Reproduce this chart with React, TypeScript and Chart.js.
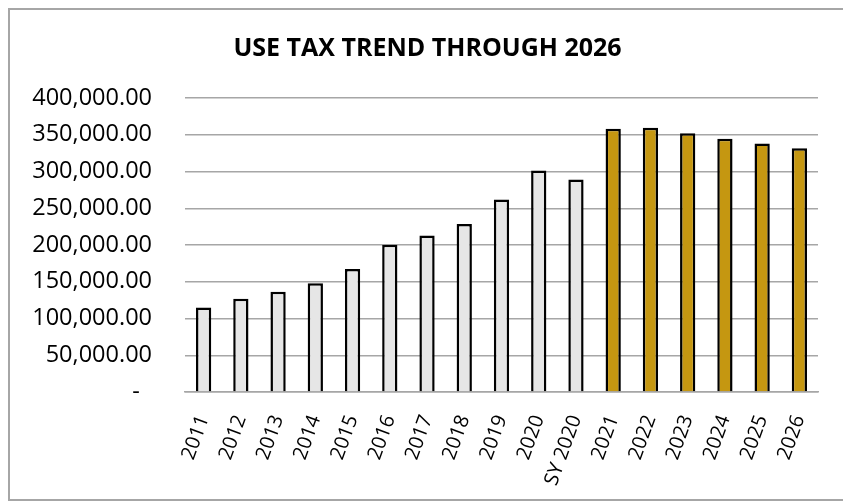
import React, { useEffect, useRef } from "react";
import { Chart, registerables } from "chart.js";

Chart.register(...registerables);

const TITLE = "USE TAX TREND THROUGH 2026";
const categories = ["2011", "2012", "2013", "2014", "2015", "2016", "2017", "2018", "2019", "2020", "SY 2020", "2021", "2022", "2023", "2024", "2025", "2026"];
const useTax = [115000, 127000, 136500, 148000, 167500, 200500, 213000, 228500, 262000, 301500, 289000, 358000, 359500, 352000, 344500, 338000, 331500];
const projected = [false, false, false, false, false, false, false, false, false, false, false, true, true, true, true, true, true];

const ACTUAL_COLOR = "#e6e6e6";
const PROJECTED_COLOR = "#c59711";

function fmt(v: number): string {
  if (v === 0) return "-  ";
  return v.toLocaleString("en-US", { minimumFractionDigits: 2, maximumFractionDigits: 2 });
}

export default function App() {
  const ref = useRef<HTMLCanvasElement | null>(null);
  useEffect(() => {
    if (!ref.current) return;
    const chart = new Chart(ref.current, {
      type: "bar",
      data: {
        labels: categories,
        datasets: [
          {
            data: useTax,
            backgroundColor: projected.map((p) => (p ? PROJECTED_COLOR : ACTUAL_COLOR)),
            borderColor: "#000000",
            borderWidth: 2.5,
            barPercentage: 0.41,
            categoryPercentage: 1,
            yAxisID: "y",
          },
        ],
      },
      options: {
        responsive: false,
        animation: false,
        layout: { padding: 0 },
        plugins: {
          legend: { display: false },
          tooltip: { enabled: false },
          title: {
            display: true,
            text: TITLE,
            color: "#000",
            font: { family: "Open Sans", size: 25, weight: "bold", lineHeight: 1.2 },
            padding: { top: 24, bottom: 34 },
          },
        },
        scales: {
          x: {
            grid: { display: false, drawTicks: false },
            border: { display: true, color: "#a6a6a6", width: 1.5 },
            ticks: {
              color: "#000",
              font: { family: "Open Sans", size: 20 },
              minRotation: 70,
              maxRotation: 70,
              padding: 20,
              autoSkip: false,
            },
            afterFit: (s: any) => {
              s.height = 107;
            },
          },
          y: {
            min: 0,
            max: 400000,
            grid: { color: "#a6a6a6", lineWidth: 1.5, drawTicks: false },
            border: { display: false },
            ticks: {
              stepSize: 50000,
              color: "#000",
              font: { family: "Open Sans", size: 23.5 },
              padding: 33,
              callback: (v: any) => fmt(Number(v)),
            },
            afterFit: (s: any) => {
              s.width = 175;
            },
          },
          yRight: {
            position: "right",
            min: 0,
            max: 400000,
            grid: { display: false, drawTicks: false },
            border: { display: false },
            ticks: { display: false },
            afterFit: (s: any) => {
              s.width = 27;
            },
          },
        },
      },
    });
    return () => chart.destroy();
  }, []);
  return (
    <div style={{ width: 835, height: 489, border: "2px solid #a6a6a6", background: "#fff" }}>
      <canvas ref={ref} width={835} height={489} style={{ display: "block" }} />
    </div>
  );
}
